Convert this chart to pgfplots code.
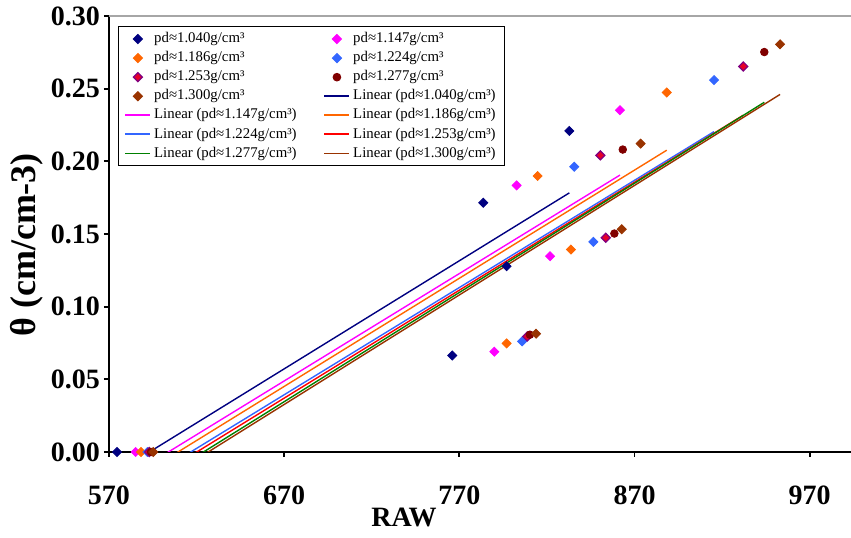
\documentclass[border=0pt]{standalone}
\usepackage{fontspec}
\setmainfont{Liberation Serif}
\usepackage{pgfplots}
\usepackage{pgfplotstable}
\pgfplotsset{compat=1.18}
\usetikzlibrary{calc}

\definecolor{c1}{RGB}{0,0,128}
\definecolor{c2}{RGB}{255,0,255}
\definecolor{c3}{RGB}{255,102,0}
\definecolor{c4}{RGB}{51,102,255}
\definecolor{c5}{RGB}{128,0,128}
\definecolor{c5f}{RGB}{230,0,40}
\definecolor{c6}{RGB}{128,0,0}
\definecolor{c7}{RGB}{153,51,0}
\definecolor{l5}{RGB}{255,0,0}
\definecolor{l6}{RGB}{0,128,0}

\pgfplotstableread{
x y
574.6 0
766.0 0.0664
783.7 0.1715
797.0 0.1278
832.8 0.2209
}\tA
\pgfplotstableread{
x y
585.2 0
790.0 0.0690
802.7 0.1834
821.8 0.1347
861.7 0.2352
}\tB
\pgfplotstableread{
x y
588.3 0
797.0 0.0747
814.7 0.1899
833.7 0.1393
888.4 0.2474
}\tC
\pgfplotstableread{
x y
591.9 0
805.8 0.0761
835.6 0.1963
846.5 0.1446
915.4 0.2559
}\tD
\pgfplotstableread{
x y
593.0 0
808.8 0.0795
850.5 0.2041
853.6 0.1474
932.1 0.2653
}\tE
\pgfplotstableread{
x y
594.0 0
810.3 0.0807
858.5 0.1503
863.3 0.2081
944.1 0.2752
}\tF
\pgfplotstableread{
x y
595.3 0
813.8 0.0814
862.7 0.1533
873.5 0.2122
953.1 0.2805
}\tG

\begin{document}
\begin{tikzpicture}
\begin{axis}[name=ax, scale only axis, width=371pt, height=218pt,
  xmin=570, xmax=993.6, ymin=0, ymax=0.30,
  axis x line*=bottom, axis y line*=left,
  xtick={570,670,770,870,970},
  ytick={0,0.05,0.10,0.15,0.20,0.25,0.30},
  tick align=outside, major tick length=2.5pt,
  tick style={black, line width=0.9pt},
  axis line style={black, line width=0.9pt},
  /pgf/number format/assume math mode=true,
  tick label style={font=\bfseries\fontsize{14}{14}\selectfont},
  yticklabel style={xshift=1.5pt, /pgf/number format/.cd, fixed, fixed zerofill, precision=2},
  xticklabel style={yshift=-11pt, /pgf/number format/.cd, fixed, 1000 sep={}},
  ylabel={θ (cm/cm-3)},
  ylabel style={font=\bfseries\fontsize{18}{18}\selectfont, at={(axis description cs:0,0.475)}, yshift=41pt, anchor=center},
  xlabel={RAW},
  xlabel style={font=\bfseries\fontsize{14}{14}\selectfont, at={(axis description cs:0.3976,0)}, yshift=-32.5pt, anchor=center},
  legend columns=2,
  legend cell align=left,
  legend image code/.code={\draw[mark repeat=2,mark phase=2,#1] plot coordinates {(0pt,0pt)(6.25pt,0pt)(12.5pt,0pt)};},
  legend style={at={(0,1)}, anchor=north west, xshift=4.5pt, yshift=-5pt, draw=black, line width=0.5pt,
    font=\fontsize{7.4}{8}\selectfont, inner xsep=3pt, inner ysep=1.5pt,
    /tikz/every even column/.append style={column sep=12pt},
    nodes={inner sep=1.45pt}},
]
\addplot[only marks, mark=square*, mark size=1.6pt, mark options={rotate=45, draw=c1, fill=c1}] table[x=x,y=y] {\tA};
\addlegendentry{pd≈1.040g/cm³}
\addplot[only marks, mark=square*, mark size=1.6pt, mark options={rotate=45, draw=c2, fill=c2}] table[x=x,y=y] {\tB};
\addlegendentry{pd≈1.147g/cm³}
\addplot[only marks, mark=square*, mark size=1.6pt, mark options={rotate=45, draw=c3, fill=c3}] table[x=x,y=y] {\tC};
\addlegendentry{pd≈1.186g/cm³}
\addplot[only marks, mark=square*, mark size=1.6pt, mark options={rotate=45, draw=c4, fill=c4}] table[x=x,y=y] {\tD};
\addlegendentry{pd≈1.224g/cm³}
\addplot[only marks, mark=square*, mark size=1.6pt, mark options={rotate=45, draw=c5, fill=c5f, line width=0.6pt}] table[x=x,y=y] {\tE};
\addlegendentry{pd≈1.253g/cm³}
\addplot[only marks, mark=*, mark size=1.9pt, mark options={draw=c6, fill=c6}] table[x=x,y=y] {\tF};
\addlegendentry{pd≈1.277g/cm³}
\addplot[only marks, mark=square*, mark size=1.6pt, mark options={rotate=45, draw=c7, fill=c7}] table[x=x,y=y] {\tG};
\addlegendentry{pd≈1.300g/cm³}

\addplot[c1, line width=0.7pt, mark=none, legend image post style={line width=0.9pt}] table[x=x, y={create col/linear regression={y=y}}] {\tA};
\addlegendentry{Linear (pd≈1.040g/cm³)}
\addplot[c2, line width=0.7pt, mark=none, legend image post style={line width=0.9pt}] table[x=x, y={create col/linear regression={y=y}}] {\tB};
\addlegendentry{Linear (pd≈1.147g/cm³)}
\addplot[c3, line width=0.7pt, mark=none, legend image post style={line width=0.9pt}] table[x=x, y={create col/linear regression={y=y}}] {\tC};
\addlegendentry{Linear (pd≈1.186g/cm³)}
\addplot[c4, line width=0.7pt, mark=none, legend image post style={line width=0.9pt}] table[x=x, y={create col/linear regression={y=y}}] {\tD};
\addlegendentry{Linear (pd≈1.224g/cm³)}
\addplot[l5, line width=0.7pt, mark=none, legend image post style={line width=0.9pt}] table[x=x, y={create col/linear regression={y=y}}] {\tE};
\addlegendentry{Linear (pd≈1.253g/cm³)}
\addplot[l6, line width=0.7pt, mark=none, legend image post style={line width=0.9pt}] table[x=x, y={create col/linear regression={y=y}}] {\tF};
\addlegendentry{Linear (pd≈1.277g/cm³)}
\addplot[c7, line width=0.7pt, mark=none, legend image post style={line width=0.9pt}] table[x=x, y={create col/linear regression={y=y}}] {\tG};
\addlegendentry{Linear (pd≈1.300g/cm³)}
\end{axis}
\draw[black!35, line width=0.8pt] (ax.north west) -- (ax.north east);
\pgfresetboundingbox
\path ($(ax.south west)+(-54.5pt,-43pt)$) rectangle ($(ax.north east)+(0pt,8pt)$);
\end{tikzpicture}
\end{document}
